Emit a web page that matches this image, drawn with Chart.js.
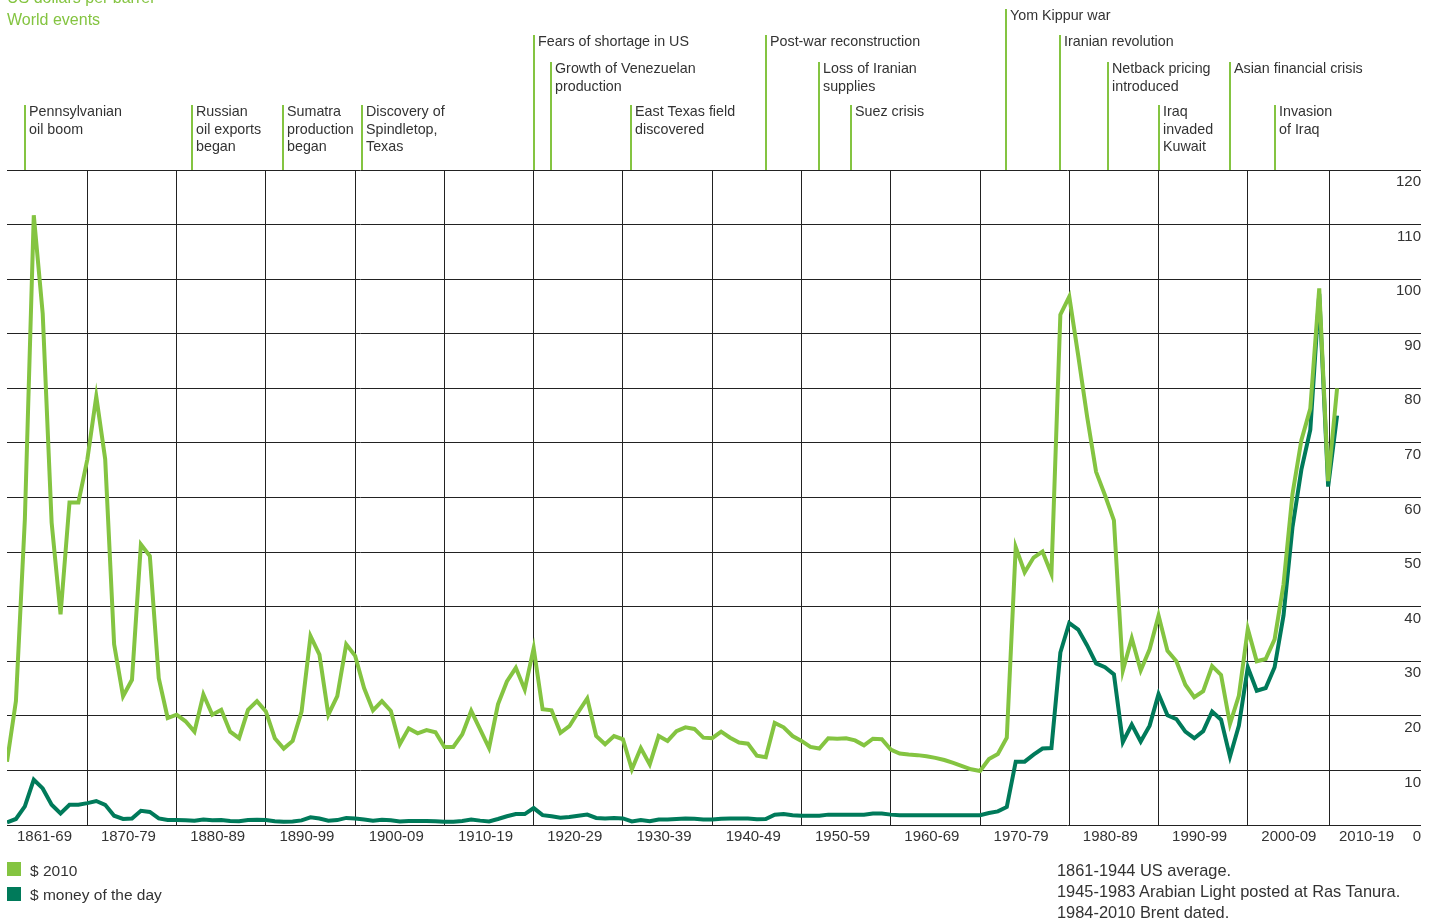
<!DOCTYPE html>
<html>
<head>
<meta charset="utf-8">
<title>Crude oil prices 1861-2010</title>
<script src="https://cdn.jsdelivr.net/npm/chart.js@4.4.1/dist/chart.umd.min.js"></script>
<style>
  body { margin: 0; background: #fff; font-family: "Liberation Sans", Arial, sans-serif; color: #333; }
  #wrap { position: relative; width: 1434px; height: 920px; overflow: hidden; }
  #wrap canvas { position: absolute; left: 0; top: 0; }
  .txt { position: absolute; white-space: nowrap; line-height: 19px; }
  .head { color: #84c441; font-size: 16px; left: 7px; }
  .key { font-size: 15.5px; left: 30px; }
  .swatch { position: absolute; left: 7px; width: 14px; height: 14px; }
  .note { font-size: 16.4px; left: 1057px; }
</style>
</head>
<body>
<div id="wrap">
  <canvas id="oilChart" width="1434" height="920"></canvas>
  <div class="txt head" style="top:-12px">US dollars per barrel</div>
  <div class="txt head" style="top:10px">World events</div>
  <div class="swatch" style="top:862px; background:#84c441"></div>
  <div class="txt key" style="top:861px">$ 2010</div>
  <div class="swatch" style="top:887px; background:#007a5a"></div>
  <div class="txt key" style="top:885px">$ money of the day</div>
  <div class="txt note" style="top:861px">1861-1944 US average.</div>
  <div class="txt note" style="top:882px">1945-1983 Arabian Light posted at Ras Tanura.</div>
  <div class="txt note" style="top:903px">1984-2010 Brent dated.</div>
</div>
<script>
// === Data ===
const years = Array.from({ length: 150 }, (_, i) => 1861 + i); // 1861 .. 2010

// $ 2010 (light green)
const price2010 = [
  11.6, 22.7, 56, 111.7, 93.7, 55.4, 38.6, 59.1, 59.1,            // 1861-69
  67, 78.5, 67, 33.1, 23.6, 26.6, 51.4, 49.3, 26.9, 19.6,          // 1870-79
  20.2, 19.0, 17.1, 23.9, 20.2, 21.1, 17.1, 15.9, 21.1, 22.7,      // 1880-89
  20.8, 15.9, 14.0, 15.4, 20.8, 34.6, 31.2, 20.2, 23.6, 33.1,      // 1890-99
  31.0, 25.1, 21.0, 22.7, 20.9, 14.8, 17.7, 16.8, 17.4, 17.0,      // 1900-09
  14.3, 14.3, 16.6, 20.9, 17.5, 14.1, 22.1, 26.3, 28.8, 24.8,      // 1910-19
  32.4, 21.2, 21.0, 16.9, 18.1, 20.7, 23.2, 16.3, 14.8, 16.3,      // 1920-29
  15.7, 10.2, 14.1, 11.1, 16.3, 15.4, 17.2, 17.9, 17.6, 16.0,      // 1930-39
  15.9, 17.1, 16.0, 15.1, 14.9, 12.7, 12.4, 18.7, 17.9, 16.3,      // 1940-49
  15.4, 14.3, 14.0, 15.9, 15.8, 15.9, 15.5, 14.6, 15.8, 15.7,      // 1950-59
  13.8, 13.1, 12.9, 12.8, 12.6, 12.3, 11.9, 11.4, 10.8, 10.2,      // 1960-69
  9.9, 12.1, 13.0, 16.0, 50.9, 46.3, 49.0, 50.1, 46.0, 93.5,       // 1970-79
  96.8, 86.0, 74.8, 64.7, 60.4, 55.8, 28.3, 34.2, 28.3, 32.2,      // 1980-89
  38.4, 31.9, 30.0, 25.7, 23.4, 24.5, 29.1, 27.5, 18.5, 23.7,      // 1990-99
  35.9, 30.0, 30.4, 34.0, 44.1, 60.6, 70.5, 76.3, 98.3, 63.0,      // 2000-09
  80.0                                                              // 2010
];

// $ money of the day (dark green)
const priceNominal = [
  0.5, 1.1, 3.4, 8.3, 6.7, 3.7, 2.1, 3.7, 3.7,                     // 1861-69
  4.0, 4.4, 3.7, 1.7, 1.1, 1.2, 2.6, 2.4, 1.2, 0.9,                // 1870-79
  0.9, 0.85, 0.8, 1.0, 0.85, 0.9, 0.75, 0.7, 0.9, 0.95,            // 1880-89
  0.9, 0.7, 0.6, 0.65, 0.85, 1.4, 1.2, 0.8, 0.9, 1.3,              // 1890-99
  1.2, 1.0, 0.8, 0.95, 0.85, 0.65, 0.75, 0.75, 0.75, 0.7,          // 1900-09
  0.6, 0.6, 0.75, 1.0, 0.8, 0.65, 1.1, 1.6, 2.0, 2.0,              // 1910-19
  3.1, 1.8, 1.6, 1.35, 1.45, 1.7, 1.9, 1.3, 1.2, 1.3,              // 1920-29
  1.2, 0.65, 0.9, 0.7, 1.0, 1.0, 1.1, 1.2, 1.15, 1.0,              // 1930-39
  1.0, 1.15, 1.2, 1.2, 1.2, 1.05, 1.1, 1.9, 2.0, 1.8,              // 1940-49
  1.7, 1.7, 1.7, 1.9, 1.9, 1.9, 1.9, 1.9, 2.1, 2.1,                // 1950-59
  1.9, 1.8, 1.8, 1.8, 1.8, 1.8, 1.8, 1.8, 1.8, 1.8,                // 1960-69
  1.8, 2.2, 2.5, 3.3, 11.6, 11.6, 12.9, 14.0, 14.1, 31.6,          // 1970-79
  37.0, 35.8, 32.9, 29.6, 28.9, 27.6, 15.2, 18.4, 15.3, 18.2,      // 1980-89
  24.0, 20.1, 19.4, 17.1, 15.9, 17.2, 20.8, 19.3, 12.5, 18.2,      // 1990-99
  28.9, 24.6, 25.1, 28.9, 38.4, 54.5, 65.1, 72.4, 97.3, 62.0,      // 2000-09
  75.0                                                              // 2010
];

// axis ticks
const gridYears = [1870, 1880, 1890, 1900, 1910, 1920, 1930, 1940, 1950, 1960, 1970, 1980, 1990, 2000, 2009.2];
const decadeLabels = ["1861-69", "1870-79", "1880-89", "1890-99", "1900-09", "1910-19", "1920-29",
  "1930-39", "1940-49", "1950-59", "1960-69", "1970-79", "1980-89", "1990-99", "2000-09", "2010-19"];
const yTicks = [0, 10, 20, 30, 40, 50, 60, 70, 80, 90, 100, 110, 120];

// world events
const eventNames = [
  "Pennsylvanian\noil boom", "Russian\noil exports\nbegan", "Sumatra\nproduction\nbegan",
  "Discovery of\nSpindletop,\nTexas", "Fears of shortage in US", "Growth of Venezuelan\nproduction",
  "East Texas field\ndiscovered", "Post-war reconstruction", "Loss of Iranian\nsupplies", "Suez crisis",
  "Yom Kippur war", "Iranian revolution", "Netback pricing\nintroduced", "Iraq\ninvaded\nKuwait",
  "Asian financial crisis", "Invasion\nof Iraq"
];
const eventYears = [1863, 1881.7, 1891.9, 1900.8, 1920, 1921.9, 1930.9, 1946, 1952, 1955.5,
  1972.9, 1979, 1984.3, 1990, 1998, 2003.1];
const eventRows = [3, 3, 3, 3, 1, 2, 3, 1, 2, 3, 0, 1, 2, 3, 2, 3];

const LIGHT = "#84c441";
const DARK = "#007a5a";
const FONT = '"Liberation Sans", Arial, sans-serif';

// === World events plugin: green markers above the plot ===
const eventsPlugin = {
  id: "worldEvents",
  afterDraw(chart) {
    const { ctx, chartArea, scales: { x } } = chart;
    const rowTop = [9, 35, 62, 105];
    ctx.save();
    ctx.font = "14.3px " + FONT;
    ctx.textBaseline = "middle";
    ctx.fillStyle = "#333";
    eventNames.forEach((name, i) => {
      const px = Math.round(x.getPixelForValue(eventYears[i]));
      const top = rowTop[eventRows[i]];
      ctx.strokeStyle = LIGHT;
      ctx.lineWidth = 2;
      ctx.beginPath();
      ctx.moveTo(px, top);
      ctx.lineTo(px, chartArea.top);
      ctx.stroke();
      name.split("\n").forEach((line, k) => {
        ctx.fillText(line, px + 4, top + 7.5 + k * 17.3);
      });
    });
    ctx.restore();
  }
};

const ctx = document.getElementById("oilChart").getContext("2d");
new Chart(ctx, {
  type: "line",
  data: {
    datasets: [
      {
        label: "$ 2010",
        data: years.map((yr, i) => ({ x: yr, y: price2010[i] })),
        borderColor: LIGHT,
        borderWidth: 4,
        borderJoinStyle: "miter",
        pointRadius: 0,
        tension: 0,
        fill: false
      },
      {
        label: "$ money of the day",
        data: years.map((yr, i) => ({ x: yr, y: priceNominal[i] })),
        borderColor: DARK,
        borderWidth: 4,
        borderJoinStyle: "miter",
        pointRadius: 0,
        tension: 0,
        fill: false
      }
    ]
  },
  options: {
    responsive: false,
    animation: false,
    layout: { padding: { top: 170, left: 7, right: 13, bottom: 71 } },
    plugins: { legend: { display: false }, tooltip: { enabled: false } },
    scales: {
      x: {
        type: "linear", min: 1861, max: 2019.4, position: "bottom",
        afterBuildTicks: s => { s.ticks = gridYears.map(v => ({ value: v })); },
        grid: { color: "#222", lineWidth: 1, drawTicks: false },
        border: { display: false },
        ticks: { display: false }
      },
      x2: {
        type: "linear", min: 1861, max: 2019.4, position: "bottom",
        afterBuildTicks: s => {
          s.ticks = decadeLabels.map((_, i) => ({
            value: i === 0 ? 1865.2 : i === decadeLabels.length - 1 ? 2013.3 : 1860 + i * 10 + 4.6
          }));
        },
        grid: { display: false, drawTicks: false },
        border: { display: false },
        ticks: {
          autoSkip: false, maxRotation: 0, padding: 3, color: "#333",
          font: { size: 15, family: FONT },
          callback: (v, i) => decadeLabels[i]
        }
      },
      y: {
        position: "right", min: 0, max: 120,
        afterBuildTicks: s => { s.ticks = yTicks.map(v => ({ value: v })); },
        grid: { color: "#222", lineWidth: 1, drawTicks: false },
        border: { display: false },
        ticks: { mirror: true, padding: 0, labelOffset: 12, color: "#333", font: { size: 15, family: FONT } }
      }
    }
  },
  plugins: [eventsPlugin]
});
</script>
</body>
</html>
